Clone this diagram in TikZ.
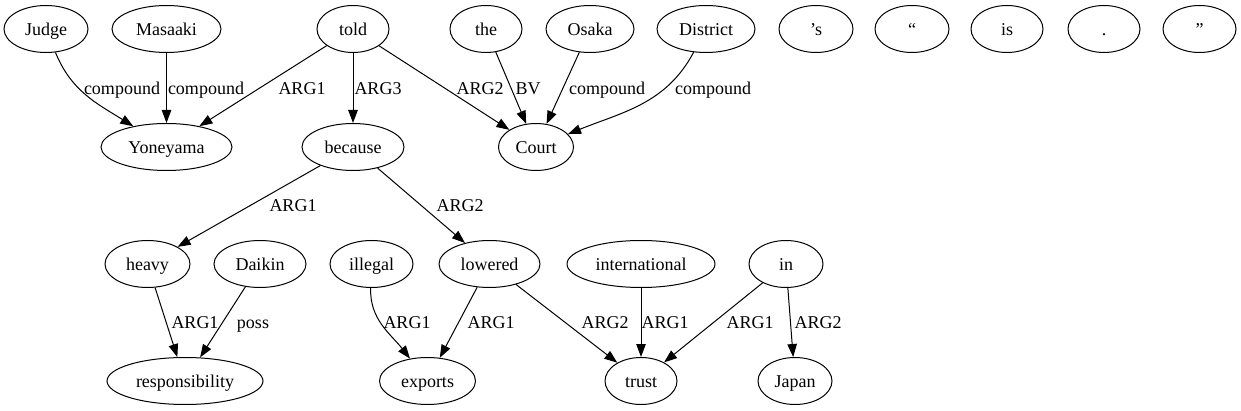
\documentclass[tikz,border=0pt]{standalone}
\usepackage{fontspec}
\setmainfont{Liberation Serif}
\usepackage{tikz}
\usetikzlibrary{arrows.meta,shapes.geometric}

\begin{document}
\begin{tikzpicture}[x=1pt,y=-1pt,
  tok/.style={ellipse,draw,line width=1pt,inner sep=0pt,minimum height=47pt},
  dep/.style={-{Triangle[length=13pt,width=9.5pt]},line width=1pt},
  lbl/.style={inner sep=0pt},
  every node/.style={font=\fontsize{18}{21}\selectfont,text height=15.5pt,text depth=2.5pt}]
  \useasboundingbox (0,0) rectangle (1241,411);
  \node[tok,minimum width=84pt] (judge) at (46,29) {Judge};
  \node[tok,minimum width=109pt] (masaaki) at (166.5,29) {Masaaki};
  \node[tok,minimum width=72pt] (told) at (353,29) {told};
  \node[tok,minimum width=72pt] (the) at (486,29) {the};
  \node[tok,minimum width=88pt] (osaka) at (590,29) {Osaka};
  \node[tok,minimum width=98pt] (district) at (706,29) {District};
  \node[tok,minimum width=74pt] (poss) at (816,29) {’s};
  \node[tok,minimum width=74pt] (lquote) at (912,29) {“};
  \node[tok,minimum width=72pt] (is) at (1007,29) {is};
  \node[tok,minimum width=72pt] (period) at (1104,29) {.};
  \node[tok,minimum width=73pt] (rquote) at (1199.5,29) {”};
  \node[tok,minimum width=131pt] (yoneyama) at (166.5,147) {Yoneyama};
  \node[tok,minimum width=102pt] (because) at (353,147) {because};
  \node[tok,minimum width=75pt] (court) at (536,147) {Court};
  \node[tok,minimum width=85pt] (heavy) at (147.5,264) {heavy};
  \node[tok,minimum width=92pt] (daikin) at (260,264) {Daikin};
  \node[tok,minimum width=83pt] (illegal) at (371.5,264) {illegal};
  \node[tok,minimum width=101pt] (lowered) at (489.5,264) {lowered};
  \node[tok,minimum width=148pt] (intl) at (641,264) {international};
  \node[tok,minimum width=74pt] (in) at (786,264) {in};
  \node[tok,minimum width=156pt] (resp) at (185,381) {responsibility};
  \node[tok,minimum width=96pt] (exports) at (427.5,381) {exports};
  \node[tok,minimum width=72pt] (trust) at (641,381) {trust};
  \node[tok,minimum width=74pt] (japan) at (795,381) {Japan};
  \draw[dep] (judge) to[out=-68,in=148] (yoneyama) node[lbl] at (122,88) {compound};
  \draw[dep] (masaaki) -- (yoneyama) node[lbl] at (206,88) {compound};
  \draw[dep] (told) -- (yoneyama) node[lbl] at (302,88) {ARG1};
  \draw[dep] (told) -- (because) node[lbl] at (378,88) {ARG3};
  \draw[dep] (told) -- (court) node[lbl] at (480,88) {ARG2};
  \draw[dep] (the) -- (court) node[lbl] at (528,88) {BV};
  \draw[dep] (osaka) -- (court) node[lbl] at (607,88) {compound};
  \draw[dep] (district) to[out=-118,in=22] (court) node[lbl] at (713,88) {compound};
  \draw[dep] (because) -- (heavy) node[lbl] at (293,205) {ARG1};
  \draw[dep] (because) -- (lowered) node[lbl] at (460,205) {ARG2};
  \draw[dep] (heavy) -- (resp) node[lbl] at (195,322) {ARG1};
  \draw[dep] (daikin) -- (resp) node[lbl] at (253,322) {poss};
  \draw[dep] (illegal) to[out=-92,in=128] (exports) node[lbl] at (407,322) {ARG1};
  \draw[dep] (lowered) -- (exports) node[lbl] at (491,322) {ARG1};
  \draw[dep] (lowered) -- (trust) node[lbl] at (605,322) {ARG2};
  \draw[dep] (intl) -- (trust) node[lbl] at (665,322) {ARG1};
  \draw[dep] (in) -- (trust) node[lbl] at (750,322) {ARG1};
  \draw[dep] (in) -- (japan) node[lbl] at (818,322) {ARG2};
\end{tikzpicture}
\end{document}
